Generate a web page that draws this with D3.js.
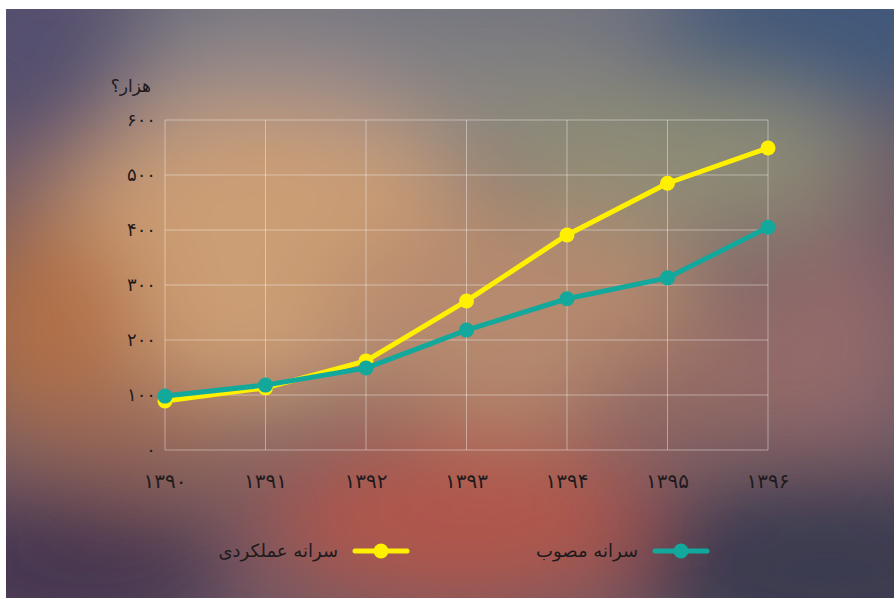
<!DOCTYPE html>
<html>
<head>
<meta charset="utf-8">
<script src="https://cdn.jsdelivr.net/npm/d3@7"></script>
<style>
  body { margin: 0; background: #fff; }
  svg text { font-family: "DejaVu Sans", sans-serif; fill: #1e1a1c; }
</style>
</head>
<body>
<svg id="chart" width="896" height="599"></svg>
<script>
// داده‌ها
const years = ["۱۳۹۰", "۱۳۹۱", "۱۳۹۲", "۱۳۹۳", "۱۳۹۴", "۱۳۹۵", "۱۳۹۶"];
const amalkardi = [89, 113, 162, 271, 391, 485, 549];
const mosavab = [98, 118, 149, 218, 275, 313, 405];
const yTicks = [0, 100, 200, 300, 400, 500, 600];
const yTickLabels = ["۰", "۱۰۰", "۲۰۰", "۳۰۰", "۴۰۰", "۵۰۰", "۶۰۰"];
const seriesNames = ["سرانه عملکردی", "سرانه مصوب"];
const seriesColors = ["#fff000", "#12a89b"];

var svg = d3.select("#chart");

// پس‌زمینه محو
var defs = svg.append("defs");
defs.append("filter").attr("id", "blur")
    .attr("x", "-50%").attr("y", "-50%").attr("width", "200%").attr("height", "200%")
    .append("feGaussianBlur").attr("stdDeviation", 45);
defs.append("clipPath").attr("id", "bgclip").append("rect")
    .attr("x", 6).attr("y", 9).attr("width", 888).attr("height", 589);

var blobs = [
    { cx: 450, cy: 20, rx: 520, ry: 90, c: "#727480" },
    { cx: 480, cy: 110, rx: 160, ry: 60, c: "#8a8680" },
    { cx: 830, cy: 30, rx: 180, ry: 90, c: "#40587a" },
    { cx: 30, cy: 40, rx: 130, ry: 110, c: "#54506e" },
    { cx: 270, cy: 90, rx: 160, ry: 60, c: "#948a8a" },
    { cx: 680, cy: 160, rx: 190, ry: 80, c: "#8e8c76" },
    { cx: 260, cy: 260, rx: 240, ry: 150, c: "#cc9e74" },
    { cx: 50, cy: 330, rx: 90, ry: 120, c: "#b07046" },
    { cx: 520, cy: 320, rx: 200, ry: 110, c: "#b68a6e" },
    { cx: 700, cy: 390, rx: 110, ry: 60, c: "#956a64" },
    { cx: 830, cy: 340, rx: 80, ry: 110, c: "#946a6a" },
    { cx: 150, cy: 440, rx: 110, ry: 60, c: "#956658" },
    { cx: 460, cy: 520, rx: 200, ry: 90, c: "#b0564c" },
    { cx: 60, cy: 570, rx: 170, ry: 80, c: "#45364f" },
    { cx: 830, cy: 570, rx: 200, ry: 100, c: "#3a3a50" }
];

var bg = svg.append("g").attr("clip-path", "url(#bgclip)");
bg.append("rect").attr("x", 6).attr("y", 9).attr("width", 888).attr("height", 589).attr("fill", "#6e5a66");
bg.append("g").attr("filter", "url(#blur)")
    .selectAll("ellipse").data(blobs).enter().append("ellipse")
    .attr("cx", d => d.cx).attr("cy", d => d.cy)
    .attr("rx", d => d.rx).attr("ry", d => d.ry)
    .attr("fill", d => d.c);

// محورها
var x = d3.scalePoint().domain(years).range([165, 768]);
var y = d3.scaleLinear().domain([0, 600]).range([450, 120]);

var grid = svg.append("g");
grid.selectAll(".gx").data(years).enter().append("line")
    .attr("x1", d => x(d)).attr("x2", d => x(d))
    .attr("y1", y(0)).attr("y2", y(600))
    .attr("stroke", "#fff").attr("stroke-opacity", 0.4);
grid.selectAll(".gy").data(yTicks).enter().append("line")
    .attr("x1", 165).attr("x2", 768)
    .attr("y1", d => y(d)).attr("y2", d => y(d))
    .attr("stroke", "#fff").attr("stroke-opacity", 0.4);

svg.selectAll(".ylab").data(yTicks).enter().append("text")
    .attr("x", 156).attr("y", d => y(d) + 6)
    .attr("text-anchor", "end").attr("font-size", "18px")
    .attr("direction", "ltr")
    .text((d, i) => yTickLabels[i]);

svg.selectAll(".xlab").data(years).enter().append("text")
    .attr("x", d => x(d)).attr("y", 488)
    .attr("text-anchor", "middle").attr("font-size", "20px")
    .text(d => d);

svg.append("text").attr("x", 151).attr("y", 92)
    .attr("text-anchor", "end").attr("font-size", "17px")
    .text("هزار؟");

// خطوط
var line = d3.line().x((d, i) => x(years[i])).y(d => y(d));
var series = [amalkardi, mosavab];
series.forEach((s, k) => {
    svg.append("path").datum(s)
        .attr("d", line).attr("fill", "none")
        .attr("stroke", seriesColors[k]).attr("stroke-width", 5)
        .attr("stroke-linejoin", "round");
    svg.selectAll(".p" + k).data(s).enter().append("circle")
        .attr("cx", (d, i) => x(years[i])).attr("cy", d => y(d))
        .attr("r", 7.5).attr("fill", seriesColors[k]);
});

// راهنما
var legendX = [355, 655];
seriesNames.forEach((n, k) => {
    var g = svg.append("g").attr("transform", "translate(" + legendX[k] + ",551)");
    g.append("line").attr("x1", 0).attr("x2", 52)
        .attr("stroke", seriesColors[k]).attr("stroke-width", 5).attr("stroke-linecap", "round");
    g.append("circle").attr("cx", 26).attr("r", 7.5).attr("fill", seriesColors[k]);
    g.append("text").attr("x", -17).attr("y", 6)
        .attr("text-anchor", "end").attr("font-size", "18px")
        .text(n);
});
</script>
</body>
</html>
